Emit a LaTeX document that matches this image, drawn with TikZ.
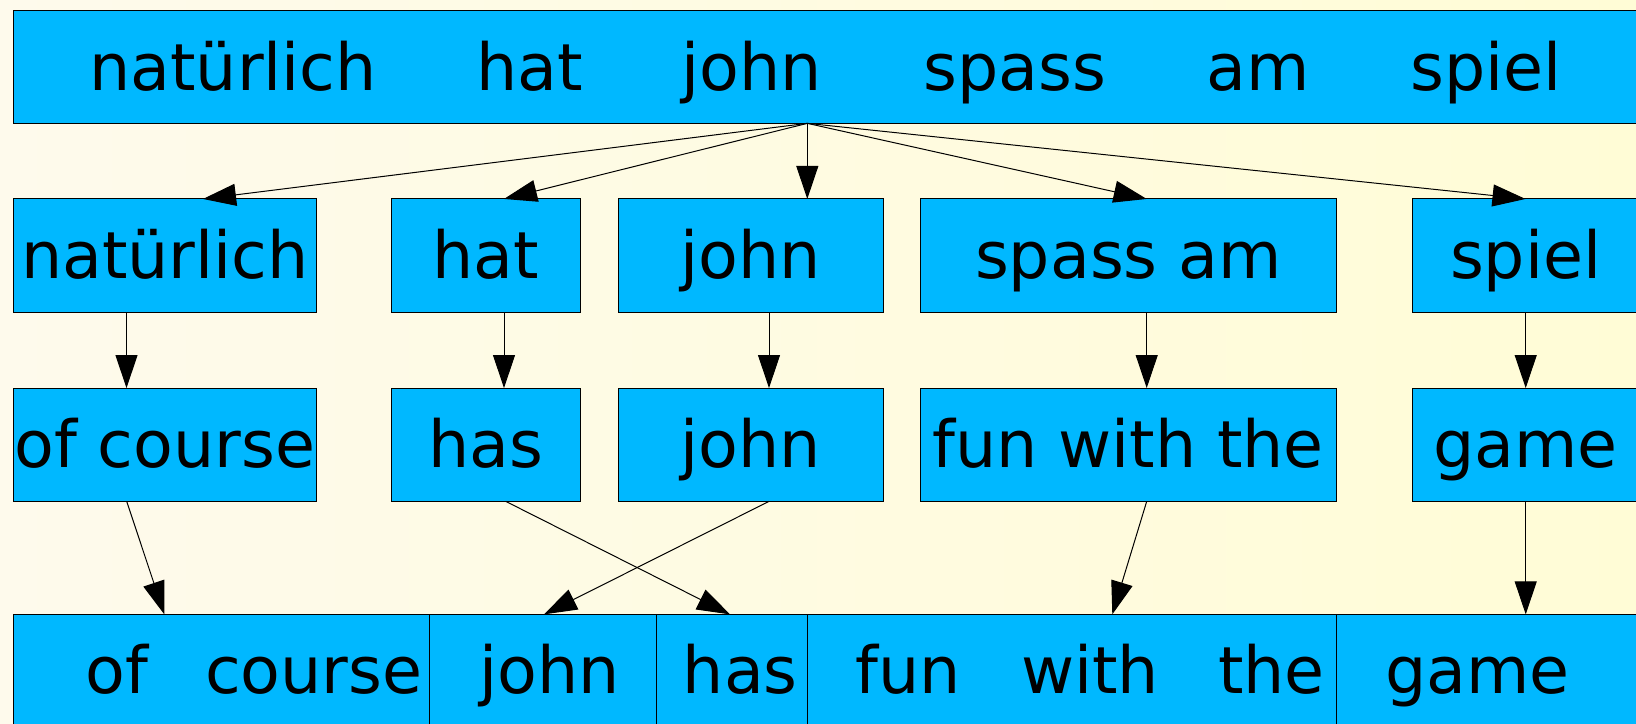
\documentclass[tikz,border=0pt]{standalone}
\usepackage{fontspec}
\setmainfont{DejaVu Sans}
\usetikzlibrary{arrows.meta}
\definecolor{boxblue}{RGB}{0,184,255}
\definecolor{bgL}{RGB}{254,250,236}
\definecolor{bgR}{RGB}{255,252,214}
\tikzset{
  bx/.style={draw=black, line width=0.5pt, fill=boxblue, rectangle, inner sep=0pt, outer sep=0pt,
    minimum height=56.65pt, text height=23pt, text depth=0.3pt,
    font=\fontsize{32.5}{39}\selectfont},
  cell/.style={draw=black, line width=0.5pt, fill=boxblue, rectangle, inner sep=0pt, outer sep=0pt,
    minimum height=56.65pt},
  wd/.style={inner sep=0pt, anchor=base, font=\fontsize{32.5}{39}\selectfont},
  arr/.style={line width=0.5pt, -{Triangle[length=16.5pt,width=11pt]}}
}
\begin{document}
\begin{tikzpicture}[x=0.5pt,y=-0.5pt]
\useasboundingbox (0,0) rectangle (1636,723);
\clip (0,0) rectangle (1636,723);
\shade[left color=bgL, right color=bgR] (0,0) rectangle (1636,723);

% top record
\node[cell, minimum width=823.35pt] (top) at (836.65,66.7) {};
\node[wd] (t1) at (233,90) {natürlich};
\node[wd] (t2) at (529.5,90) {hat};
\node[wd] (t3) at (752,90) {john};
\node[wd] (t4) at (1015,90) {spass};
\node[wd] (t5) at (1258,90) {am};
\node[wd] (t6) at (1486,90) {spiel};

% row 2
\node[bx, minimum width=151.25pt] (a2) at (164.75,255.6) {natürlich};
\node[bx, minimum width=94.5pt] (b2) at (485.8,255.6) {hat};
\node[bx, minimum width=132.25pt] (c2) at (750.75,255.6) {john};
\node[bx, minimum width=208pt] (d2) at (1128.3,255.6) {spass am};
\node[bx, minimum width=113.35pt] (e2) at (1525.7,255.6) {spiel};

% row 3
\node[bx, minimum width=151.25pt] (a3) at (164.75,444.7) {of course};
\node[bx, minimum width=94.5pt] (b3) at (485.8,444.7) {has};
\node[bx, minimum width=132.25pt] (c3) at (750.75,444.7) {john};
\node[bx, minimum width=208pt] (d3) at (1128.3,444.7) {fun with the};
\node[bx, minimum width=113.35pt] (e3) at (1525.7,444.7) {game};

% bottom record
\node[cell, minimum width=208.1pt] (ba) at (221.4,671) {};
\node[cell, minimum width=113.25pt] (bb) at (542.75,671) {};
\node[cell, minimum width=75.65pt] (bc) at (731.65,671) {};
\node[cell, minimum width=264.5pt] (bd) at (1071.8,671) {};
\node[cell, minimum width=170pt] (be) at (1506.3,671) {};
\node[wd] (w1) at (116.7,693.3) {of};
\node[wd] (w2) at (313.8,693.3) {course};
\node[wd] (w3) at (549.5,693.3) {john};
\node[wd] (w4) at (740.3,693.3) {has};
\node[wd] (w5) at (908,693.3) {fun};
\node[wd] (w6) at (1090,693.3) {with};
\node[wd] (w7) at (1271.5,693.3) {the};
\node[wd] (w8) at (1477.5,693.3) {game};

% top -> row 2
\coordinate (src) at (top.south -| 807.3,0);
\draw[arr] (src) -- (a2.north -| 203,0);
\draw[arr] (src) -- (b2.north -| 504,0);
\draw[arr] (src) -- (c2.north -| 807.3,0);
\draw[arr] (src) -- (d2.north -| 1146.7,0);
\draw[arr] (src) -- (e2.north -| 1525.5,0);

% row 2 -> row 3
\draw[arr] (a2.south -| 126.5,0) -- (a3.north -| 126.5,0);
\draw[arr] (b2.south -| 504,0) -- (b3.north -| 504,0);
\draw[arr] (c2.south -| 769,0) -- (c3.north -| 769,0);
\draw[arr] (d2.south -| 1146.7,0) -- (d3.north -| 1146.7,0);
\draw[arr] (e2.south -| 1525.7,0) -- (e3.north -| 1525.7,0);

% row 3 -> bottom
\draw[arr] (a3.south -| 126.7,0) -- (ba.north -| 164.3,0);
\draw[arr] (b3.south -| 505.7,0) -- (bc.north -| 730,0);
\draw[arr] (c3.south -| 769,0) -- (bb.north -| 544,0);
\draw[arr] (d3.south -| 1146.7,0) -- (bd.north -| 1112.3,0);
\draw[arr] (e3.south -| 1525.7,0) -- (be.north -| 1525.7,0);
\end{tikzpicture}
\end{document}
